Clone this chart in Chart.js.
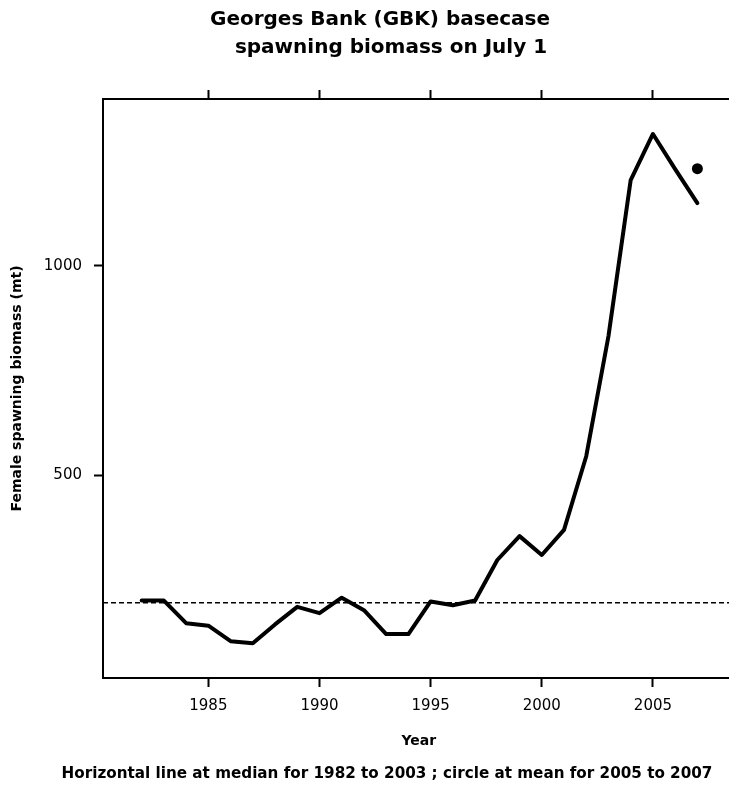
<!DOCTYPE html>
<html>
<head>
<meta charset="utf-8">
<script src="https://cdn.jsdelivr.net/npm/chart.js@4.4.1/dist/chart.umd.min.js"></script>
<style>
html,body{margin:0;padding:0;background:#fff;overflow:hidden}
#wrap{width:729px;height:785px;overflow:hidden;position:relative;background:#fff}
canvas{display:block}
</style>
</head>
<body>
<div id="wrap"><canvas id="c" width="740" height="785"></canvas></div>
<script>
// ---- data ----
const years = [1982,1983,1984,1985,1986,1987,1988,1989,1990,1991,1992,1993,1994,1995,1996,1997,1998,1999,2000,2001,2002,2003,2004,2005,2006,2007];
const biomass = [200,200,146,140,103,98,143,185,170,207,177,120,120,198,189,200,297,354,309,369,545,832,1205,1315,1231,1150];
const medianValue = 195;      // median 1982-2003 (dashed line)
const meanYear = 2007;        // circle position
const meanValue = 1232;       // mean 2005-2007
const xTickValues = [1985,1990,1995,2000,2005];
const yTickValues = [500,1000];
const xRange = [1980.26, 2008.67];
const yRange = [15, 1398.6];
const titleLines = ['Georges Bank (GBK) basecase', 'spawning biomass on July 1'];
const xTitle = 'Year';
const yTitle = 'Female spawning biomass (mt)';
const caption = 'Horizontal line at median for 1982 to 2003 ; circle at mean for 2005 to 2007';

const FONT = '"DejaVu Sans", "Liberation Sans", Arial, sans-serif';

const textPlugin = {
  id: 'textOverlay',
  beforeDraw(chart) {
    const c = chart.ctx;
    c.save();
    c.fillStyle = '#fff';
    c.fillRect(0, 0, chart.width, chart.height);
    c.restore();
  },
  afterDraw(chart) {
    const c = chart.ctx;
    c.save();
    c.fillStyle = '#000';
    c.textAlign = 'center';
    c.textBaseline = 'alphabetic';
    c.font = 'bold 20px ' + FONT;
    c.fillText(titleLines[0], 380, 25);
    c.fillText(titleLines[1], 391, 53);
    c.font = 'bold 15.2px ' + FONT;
    c.fillText(caption, 387, 778);
    c.restore();
  }
};

const gridOpts = {
  drawOnChartArea: false,
  drawTicks: true,
  tickLength: 9,
  tickWidth: 2,
  tickColor: '#000'
};
const borderOpts = { display: true, color: '#000', width: 2 };
const tickFont = { family: FONT, size: 15, weight: 'normal' };

const lineData = years.map((y, i) => ({ x: y, y: biomass[i] }));

new Chart(document.getElementById('c'), {
  type: 'line',
  data: {
    datasets: [
      {
        label: 'SSB',
        data: lineData,
        borderColor: '#000',
        borderWidth: 4,
        borderJoinStyle: 'round',
        borderCapStyle: 'round',
        pointRadius: 0,
        tension: 0,
        fill: false
      },
      {
        label: 'median',
        data: [{ x: xRange[0], y: medianValue }, { x: xRange[1], y: medianValue }],
        borderColor: '#000',
        borderWidth: 1.5,
        borderDash: [5, 3],
        pointRadius: 0,
        fill: false
      },
      {
        label: 'mean',
        type: 'scatter',
        data: [{ x: meanYear, y: meanValue }],
        pointRadius: 5.5,
        pointBackgroundColor: '#000',
        pointBorderWidth: 0,
        showLine: false
      }
    ]
  },
  options: {
    responsive: false,
    animation: false,
    devicePixelRatio: 1,
    layout: { padding: 0 },
    plugins: {
      legend: { display: false },
      tooltip: { enabled: false },
      title: { display: false }
    },
    scales: {
      x: {
        type: 'linear',
        position: 'bottom',
        min: xRange[0],
        max: xRange[1],
        afterBuildTicks: s => { s.ticks = xTickValues.map(v => ({ value: v })); },
        afterFit: s => { s.height = 107; },
        ticks: {
          color: '#000',
          font: tickFont,
          padding: 10,
          maxRotation: 0,
          autoSkip: false,
          callback: v => String(v)
        },
        grid: gridOpts,
        border: borderOpts,
        title: {
          display: true,
          text: xTitle,
          color: '#000',
          font: { family: FONT, size: 14, weight: 'bold' },
          padding: { top: 0, bottom: 35 }
        }
      },
      x2: {
        type: 'linear',
        axis: 'x',
        position: 'top',
        min: xRange[0],
        max: xRange[1],
        afterBuildTicks: s => { s.ticks = xTickValues.map(v => ({ value: v })); },
        afterFit: s => { s.height = 99; },
        ticks: { display: false },
        grid: gridOpts,
        border: borderOpts
      },
      y: {
        type: 'linear',
        position: 'left',
        min: yRange[0],
        max: yRange[1],
        afterBuildTicks: s => { s.ticks = yTickValues.map(v => ({ value: v })); },
        afterFit: s => { s.width = 103; },
        ticks: {
          color: '#000',
          font: tickFont,
          padding: 12,
          callback: v => String(v)
        },
        grid: gridOpts,
        border: borderOpts,
        title: {
          display: true,
          text: yTitle,
          color: '#000',
          font: { family: FONT, size: 14, weight: 'bold' },
          padding: { top: 9, bottom: 0 }
        }
      }
    }
  },
  plugins: [textPlugin]
});
</script>
</body>
</html>
